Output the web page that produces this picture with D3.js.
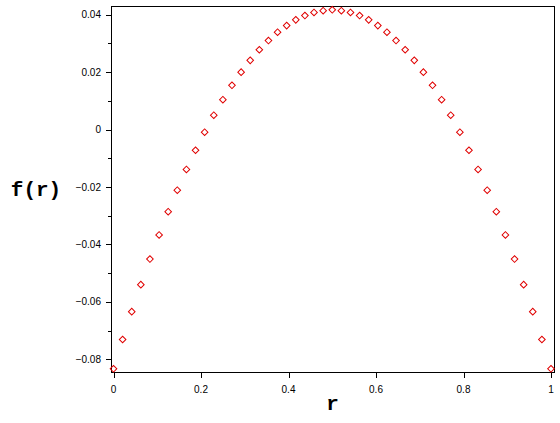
<!DOCTYPE html>
<html>
<head>
  <meta charset="utf-8">
  <style type="text/css">
      body {
        margin: 0;
        background-color: white;
      }
      svg {
        display: block;
      }
      .tick-label {
        font-family: "Liberation Sans", Arial, sans-serif;
        font-size: 10px;
        fill: black;
      }
      .axis-title {
        font-family: "Liberation Mono", "Courier New", monospace;
        font-weight: bold;
        font-size: 21px;
        fill: black;
      }
  </style>
  <script src="https://d3js.org/d3.v7.min.js"></script>
</head>
<body>
  <script type="text/javascript">
  "use strict";

  // points, r goes in steps of 1/48
  var rValues = [
    0, 0.0208, 0.0417, 0.0625, 0.0833, 0.1042, 0.125, 0.1458, 0.1667, 0.1875,
    0.2083, 0.2292, 0.25, 0.2708, 0.2917, 0.3125, 0.3333, 0.3542, 0.375, 0.3958,
    0.4167, 0.4375, 0.4583, 0.4792, 0.5, 0.5208, 0.5417, 0.5625, 0.5833, 0.6042,
    0.625, 0.6458, 0.6667, 0.6875, 0.7083, 0.7292, 0.75, 0.7708, 0.7917, 0.8125,
    0.8333, 0.8542, 0.875, 0.8958, 0.9167, 0.9375, 0.9583, 0.9792, 1
  ];
  var fValues = [
    -0.0833, -0.0731, -0.0634, -0.0540, -0.0451, -0.0367, -0.0286, -0.0211, -0.0139, -0.0072,
    -0.0009, 0.0050, 0.0104, 0.0154, 0.0200, 0.0241, 0.0278, 0.0310, 0.0339, 0.0362,
    0.0382, 0.0397, 0.0408, 0.0414, 0.0417, 0.0414, 0.0408, 0.0397, 0.0382, 0.0362,
    0.0339, 0.0310, 0.0278, 0.0241, 0.0200, 0.0154, 0.0104, 0.0050, -0.0009, -0.0072,
    -0.0139, -0.0211, -0.0286, -0.0367, -0.0451, -0.0540, -0.0634, -0.0731, -0.0833
  ];
  var xTicks = [0, 0.2, 0.4, 0.6, 0.8, 1];
  var xTickLabels = ["0", "0.2", "0.4", "0.6", "0.8", "1"];
  var yTicks = [-0.08, -0.06, -0.04, -0.02, 0, 0.02, 0.04];
  var yTickLabels = ["\u22120.08", "\u22120.06", "\u22120.04", "\u22120.02", "0", "0.02", "0.04"];
  var yMinorTicks = [-0.07, -0.05, -0.03, -0.01, 0.01, 0.03];

  var width = 560,
      height = 423;
  var frame = {left: 111, right: 554, top: 6, bottom: 372};

  var x = d3.scaleLinear().domain([0, 1]).range([113.5, 551]);
  var y = d3.scaleLinear().domain([-0.08, 0.04]).range([359.3, 14.7]);

  var svg = d3.select("body")
    .append("svg")
      .attr("width", width)
      .attr("height", height);

  /*
    box round the plot
  */
  svg.append("rect")
    .attr("x", frame.left + 0.5)
    .attr("y", frame.top + 0.5)
    .attr("width", frame.right - frame.left)
    .attr("height", frame.bottom - frame.top)
    .attr("fill", "none")
    .attr("stroke", "black")
    .attr("stroke-width", 1);

  // y axis ticks, major and minor
  svg.selectAll("line.ymajor")
    .data(yTicks)
    .enter().append("line")
      .attr("class", "ymajor")
      .attr("x1", frame.left - 5)
      .attr("x2", frame.left)
      .attr("y1", function(d) { return Math.round(y(d)) + 0.5; })
      .attr("y2", function(d) { return Math.round(y(d)) + 0.5; })
      .attr("stroke", "black");

  svg.selectAll("line.yminor")
    .data(yMinorTicks)
    .enter().append("line")
      .attr("class", "yminor")
      .attr("x1", frame.left - 3)
      .attr("x2", frame.left)
      .attr("y1", function(d) { return Math.round(y(d)) + 0.5; })
      .attr("y2", function(d) { return Math.round(y(d)) + 0.5; })
      .attr("stroke", "black");

  svg.selectAll("text.ylab")
    .data(yTicks)
    .enter().append("text")
      .attr("class", "tick-label ylab")
      .attr("x", frame.left - 10)
      .attr("y", function(d) { return y(d) + 3.5; })
      .attr("text-anchor", "end")
      .text(function(d, i) { return yTickLabels[i]; });

  // x axis ticks
  svg.selectAll("line.xmajor")
    .data(xTicks)
    .enter().append("line")
      .attr("class", "xmajor")
      .attr("x1", function(d) { return Math.round(x(d)) + 0.5; })
      .attr("x2", function(d) { return Math.round(x(d)) + 0.5; })
      .attr("y1", frame.bottom)
      .attr("y2", frame.bottom + 6)
      .attr("stroke", "black");

  svg.selectAll("text.xlab")
    .data(xTicks)
    .enter().append("text")
      .attr("class", "tick-label xlab")
      .attr("x", function(d) { return x(d); })
      .attr("y", frame.bottom + 21)
      .attr("text-anchor", "middle")
      .text(function(d, i) { return xTickLabels[i]; });

  // axis titles
  svg.append("text")
    .attr("class", "axis-title")
    .attr("x", (frame.left + frame.right) / 2)
    .attr("y", 410)
    .attr("text-anchor", "middle")
    .text("r");

  svg.append("text")
    .attr("class", "axis-title")
    .attr("x", 36)
    .attr("y", 196)
    .attr("text-anchor", "middle")
    .text("f(r)");

  /*
    the points, drawn as open red diamonds
  */
  var points = rValues.map(function(r, i) { return {r: r, f: fValues[i]}; });
  var diamond = d3.symbol().type(d3.symbolSquare).size(22);

  svg.selectAll("path.pt")
    .data(points)
    .enter().append("path")
      .attr("class", "pt")
      .attr("d", diamond)
      .attr("transform", function(d) {
        return "translate(" + x(d.r) + "," + y(d.f) + ") rotate(45)";
      })
      .attr("fill", "none")
      .attr("stroke", "#e00000")
      .attr("stroke-width", 1);
  </script>
</body>
</html>
